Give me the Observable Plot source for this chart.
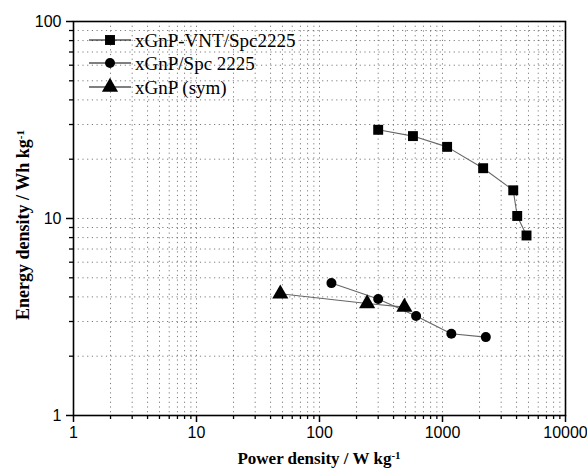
<!DOCTYPE html>
<html>
<head>
<meta charset="utf-8">
<script src="https://cdn.jsdelivr.net/npm/d3@7"></script>
<script src="https://cdn.jsdelivr.net/npm/@observablehq/plot@0.6"></script>
<style>
  html, body { margin: 0; padding: 0; background: #fff; }
  #chart { width: 587px; height: 470px; }
</style>
</head>
<body>
<div id="chart"></div>
<script>
// ---- data ----
const seriesNames = ["xGnP-VNT/Spc2225", "xGnP/Spc 2225", "xGnP (sym)"];
const seriesSymbols = ["square", "circle", "triangle"];

const vntPower  = [300, 575, 1090, 2140, 3760, 4050, 4820];
const vntEnergy = [28.2, 26.2, 23.1, 18.0, 13.9, 10.3, 8.2];

const spcPower  = [125, 300, 610, 1180, 2250];
const spcEnergy = [4.7, 3.9, 3.2, 2.6, 2.5];

const symPower  = [48, 244, 490];
const symEnergy = [4.15, 3.7, 3.55];

const xMajorTicks = [1, 10, 100, 1000, 10000];
const yMajorTicks = [1, 10, 100];
const xMinorTicks = [2,3,4,5,6,7,8,9,20,30,40,50,60,70,80,90,200,300,400,500,600,700,800,900,2000,3000,4000,5000,6000,7000,8000,9000];
const yMinorTicks = [2,3,4,5,6,7,8,9,20,30,40,50,60,70,80,90];

// ---- build table ----
const rows = [];
[[vntPower, vntEnergy], [spcPower, spcEnergy], [symPower, symEnergy]].forEach(([P, E], i) => {
  P.forEach((p, j) => rows.push({series: seriesNames[i], symbol: seriesSymbols[i], power: p, energy: E[j]}));
});

const symbolRadius = {square: 5.6, circle: 5.0, triangle: 6.0};

const gridStyle = {stroke: "#444", strokeOpacity: 0.7, strokeDasharray: "1.2,3.5", strokeWidth: 1};
const serif = "'Liberation Serif', 'Times New Roman', serif";
const sans = "'Liberation Sans', Arial, sans-serif";

const chart = Plot.plot({
  width: 587,
  height: 470,
  marginLeft: 73,
  marginRight: 22,
  marginTop: 21,
  marginBottom: 55,
  style: {fontFamily: sans, fontSize: "16px", color: "#000", background: "#fff"},
  x: {type: "log", domain: [1, 10000]},
  y: {type: "log", domain: [1, 100]},
  marks: [
    Plot.gridX(xMinorTicks.concat([10, 100, 1000]), gridStyle),
    Plot.gridY(yMinorTicks.concat([10]), gridStyle),
    Plot.axisX(xMajorTicks, {tickSize: 7, tickPadding: 4, tickFormat: d => String(d), strokeWidth: 1.5, label: null, fontSize: 16}),
    Plot.axisX(xMinorTicks, {tickSize: 4, text: null, strokeWidth: 1.3, label: null}),
    Plot.axisY(yMajorTicks, {tickSize: 7, tickPadding: 5, tickFormat: d => String(d), strokeWidth: 1.5, label: null, fontSize: 16}),
    Plot.axisY(yMinorTicks, {tickSize: 4, text: null, strokeWidth: 1.3, label: null}),
    Plot.line(rows, {x: "power", y: "energy", z: "series", stroke: "#666", strokeWidth: 1.1}),
    ...seriesSymbols.map(s => Plot.dot(rows.filter(d => d.symbol === s), {
      x: "power", y: "energy", symbol: s, r: symbolRadius[s], fill: "#000", stroke: "none"
    })),
    Plot.frame({stroke: "#000", strokeWidth: 1.6})
  ]
});

const svg = d3.select(chart);

// axis titles with superscripts
const xt = svg.append("text")
  .attr("x", 319).attr("y", 464)
  .attr("text-anchor", "middle")
  .style("font-family", serif).style("font-weight", "bold").style("font-size", "17px")
  .attr("fill", "#000");
xt.append("tspan").text("Power density / W kg");
xt.append("tspan").attr("dy", "-0.45em").style("font-size", "11px").text("-1");

const yt = svg.append("text")
  .attr("transform", "translate(29,225) rotate(-90)")
  .attr("text-anchor", "middle")
  .style("font-family", serif).style("font-weight", "bold").style("font-size", "18px")
  .attr("fill", "#000");
yt.append("tspan").text("Energy density / Wh kg");
yt.append("tspan").attr("dy", "-0.45em").style("font-size", "11px").text("-1");

// legend (inside the frame, top-left)
const legendY = [40, 63, 87];
const sym = {square: d3.symbolSquare, circle: d3.symbolCircle, triangle: d3.symbolTriangle};
const lg = svg.append("g").attr("text-anchor", "start");
seriesNames.forEach((name, i) => {
  const s = seriesSymbols[i];
  const g = lg.append("g").attr("transform", `translate(0,${legendY[i]})`);
  g.append("line").attr("x1", 89).attr("x2", 131).attr("y1", 0).attr("y2", 0)
    .attr("stroke", "#000").attr("stroke-width", 1.1);
  g.append("path").attr("transform", "translate(110,0)")
    .attr("d", d3.symbol(sym[s], Math.PI * symbolRadius[s] * symbolRadius[s])()).attr("fill", "#000");
  g.append("text").attr("x", 135).attr("y", 0).attr("dy", "0.35em").attr("text-anchor", "start")
    .style("font-family", serif).style("font-size", "19px").attr("fill", "#000").text(name);
});

document.getElementById("chart").appendChild(chart);
</script>
</body>
</html>
